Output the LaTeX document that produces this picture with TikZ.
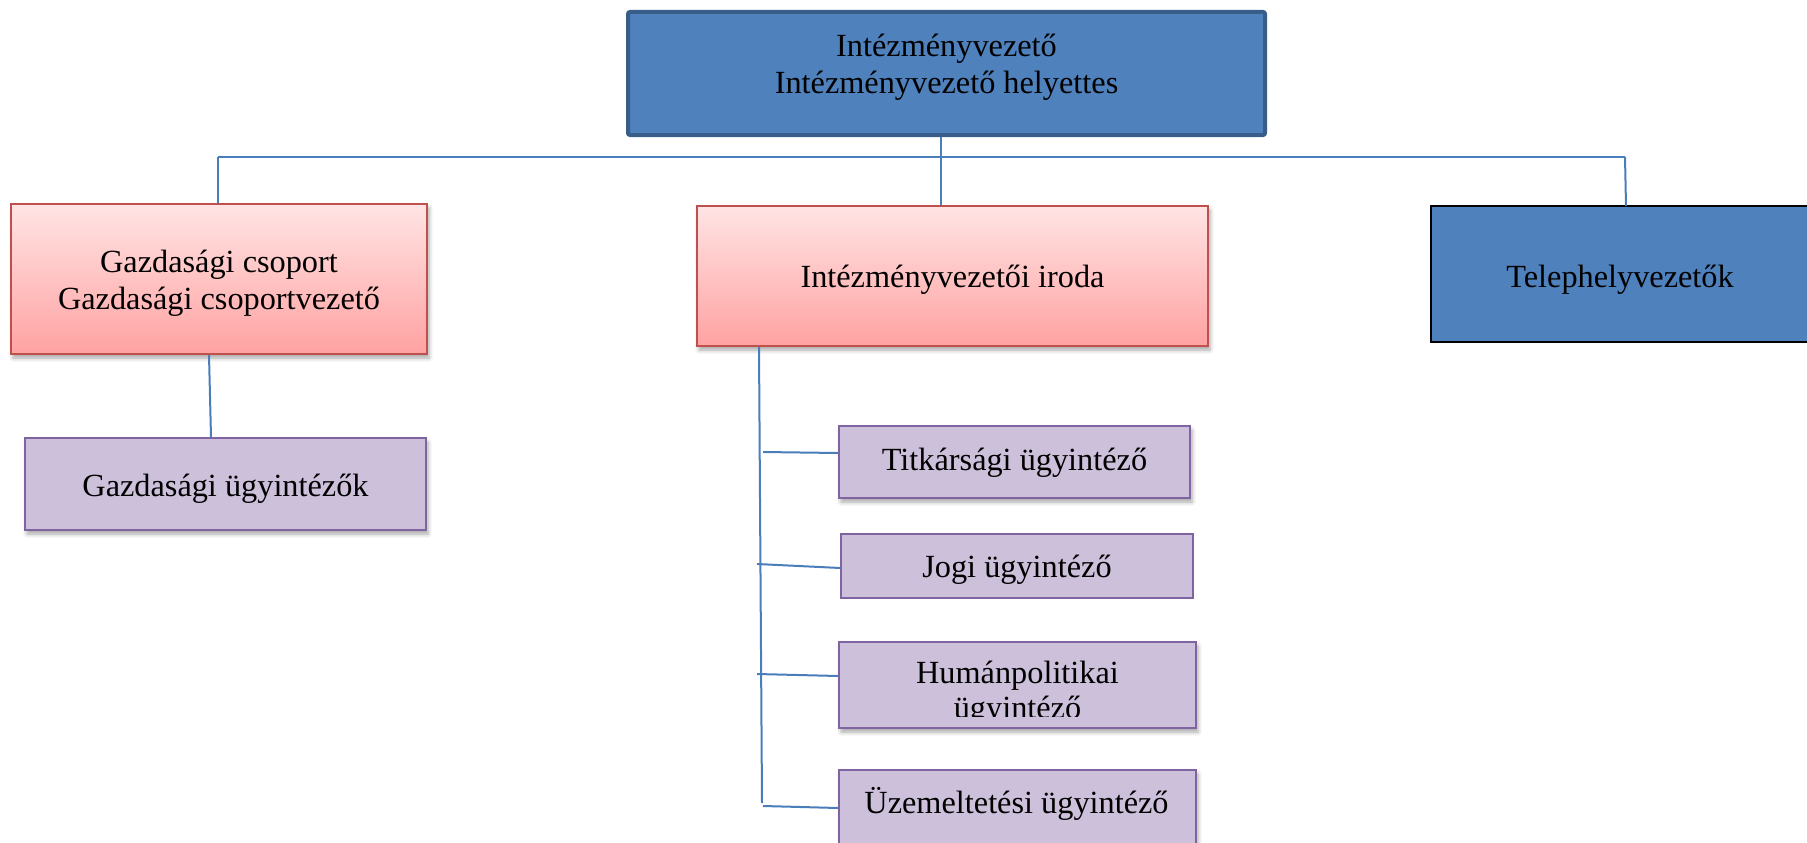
\documentclass[tikz,border=0pt]{standalone}
\usepackage{fontspec}
\setmainfont{Liberation Serif}
\usetikzlibrary{shadows.blur}
\definecolor{lineblue}{HTML}{4A7EBB}
\definecolor{boxblue}{HTML}{4F81BD}
\definecolor{darkblue}{HTML}{385D8A}
\definecolor{pinkborder}{HTML}{C0504D}
\definecolor{pinktop}{HTML}{FFE4E4}
\definecolor{pinkbot}{HTML}{FFA2A2}
\definecolor{purplefill}{HTML}{CCC0DA}
\definecolor{purpleborder}{HTML}{8064A2}
\begin{document}
\begin{tikzpicture}[x=1pt,y=-1pt,
  lbl/.style={font=\fontsize{32.3}{37}\selectfont, align=center, inner sep=0pt},
  box/.style={rectangle, inner sep=0pt},
  softshadow/.style={blur shadow={shadow xshift=2pt, shadow yshift=-4pt, shadow opacity=35, shadow blur radius=4pt}},
  topbox/.style={box, draw=darkblue, line width=4pt, fill=boxblue, rounded corners=2pt},
  bluebox/.style={box, draw=black, line width=1.5pt, fill=boxblue},
  pinkbox/.style={box, draw=pinkborder, line width=2pt, top color=pinktop, bottom color=pinkbot, softshadow},
  purplebox/.style={box, draw=purpleborder, line width=2pt, fill=purplefill},
  conn/.style={draw=lineblue, line width=2pt}
]
\useasboundingbox (0,0) rectangle (1807,843);
\clip (0,0) rectangle (1807,843);

% boxes
\node[topbox, minimum width=637pt, minimum height=123pt] (top) at (946.5,73.5) {};
\node[lbl] (toptext) at (946.5,67.5) {Intézményvezető\\Intézményvezető helyettes};

\node[pinkbox, minimum width=416pt, minimum height=150pt,
  label={[lbl, name=gcstext, yshift=-4.5pt]center:Gazdasági csoport\\Gazdasági csoportvezető}] (gcs) at (219,279) {};
\node[purplebox, softshadow, minimum width=401pt, minimum height=92pt,
  label={[lbl, name=gutext, yshift=-5pt]center:Gazdasági ügyintézők}] (gu) at (225.5,484) {};

\node[pinkbox, minimum width=511pt, minimum height=140pt,
  label={[lbl, name=irodatext, yshift=-3.5pt]center:Intézményvezetői iroda}] (iroda) at (952.5,276) {};

\node[bluebox, minimum width=378pt, minimum height=136pt,
  label={[lbl, name=teltext, yshift=-5.5pt]center:Telephelyvezetők}] (tel) at (1620,274) {};

\node[purplebox, softshadow, minimum width=351pt, minimum height=72pt,
  label={[lbl, name=titktext, yshift=-0.5pt]center:Titkársági ügyintéző}] (titk) at (1014.5,462) {};
\node[purplebox, line width=1.5pt, minimum width=352pt, minimum height=64pt,
  label={[lbl, name=jogitext, yshift=-4pt]center:Jogi ügyintéző}] (jogi) at (1017,566) {};
\node[purplebox, softshadow, minimum width=357pt, minimum height=86pt] (hum) at (1017.5,685) {};
\node[lbl, anchor=base] (humtext1) at (1017.5,683) {Humánpolitikai};
\begin{scope}
  \clip (839,642) rectangle (1196,716);
  \node[lbl, anchor=base] (humtext2) at (1017.5,718) {ügyintéző};
\end{scope}
\node[purplebox, softshadow, minimum width=357pt, minimum height=100pt] (uzem) at (1017.5,820) {};
\node[lbl] (uzemtext) at (1016.5,803.5) {Üzemeltetési ügyintéző};

% connectors
\coordinate (hl) at (218,157);
\coordinate (hm) at (941,157);
\coordinate (hr) at (1625,157);
\coordinate (tr) at (1626,206);
\coordinate (vb) at (762,803);
\coordinate (b1) at (763,452);
\coordinate (b2) at (757,564);
\coordinate (b3) at (757,674);
\coordinate (b4) at (763,806);

\draw[conn] (hm |- top.south) -- (hm);
\draw[conn] (hl) -- (hr);
\draw[conn] (hl) -- (hl |- gcs.north);
\draw[conn] (hm) -- (hm |- iroda.north);
\draw[conn] (hr) -- (tr);
\draw[conn] ([xshift=-10pt]gcs.south) -- ([xshift=-14.5pt]gu.north);
\draw[conn] ([xshift=-193.5pt]iroda.south) -- (vb);
\draw[conn] (b1) -- ([yshift=9pt]titk.west);
\draw[conn] (b2) -- ([yshift=-2pt]jogi.west);
\draw[conn] (b3) -- ([yshift=9pt]hum.west);
\draw[conn] (b4) -- ([yshift=12pt]uzem.west);
\end{tikzpicture}
\end{document}
